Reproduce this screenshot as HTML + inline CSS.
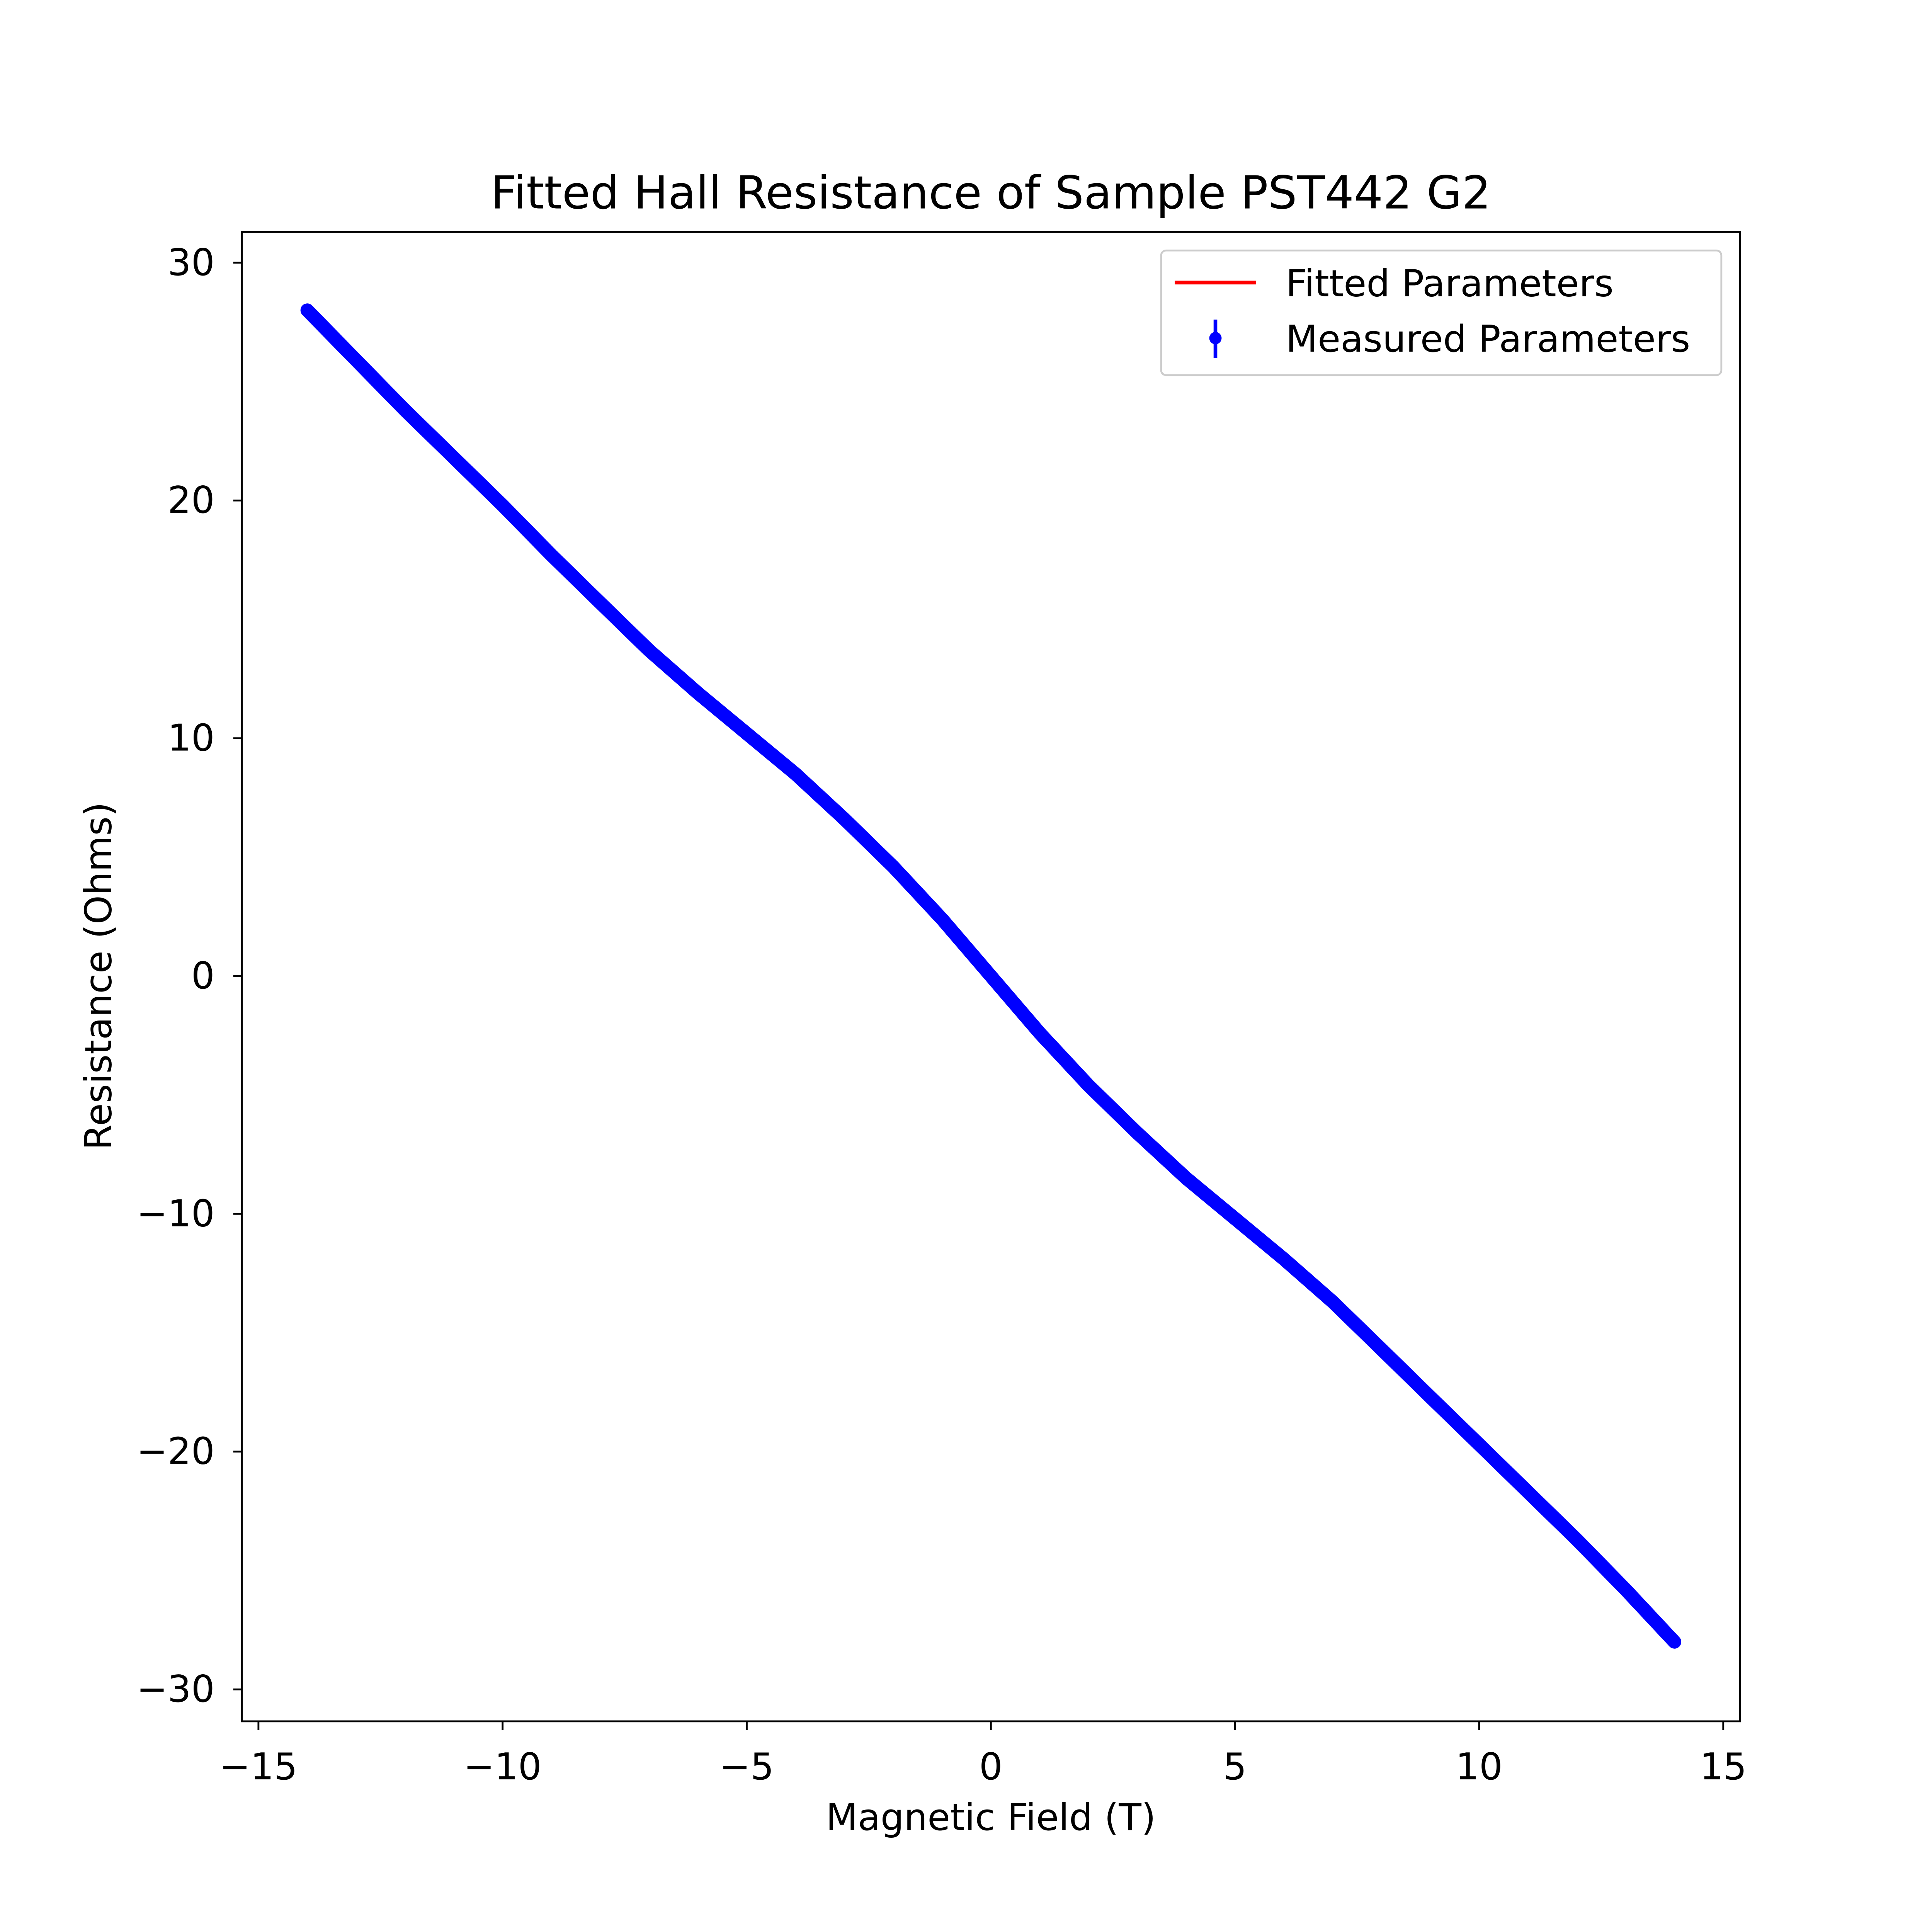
<!DOCTYPE html>
<html><head><meta charset="utf-8"><style>
html,body{margin:0;padding:0;background:#fff;overflow:hidden;width:5250px;height:5250px}
svg{display:block}
text{font-family:"DejaVu Sans","Liberation Sans",sans-serif;fill:#000}
</style></head><body>
<svg width="5250" height="5250" viewBox="0 0 1644 1644" xmlns="http://www.w3.org/2000/svg">
<rect width="1644" height="1644" fill="#fff"/>
<text x="803" y="169" font-size="37" text-anchor="middle">Fitted Hall Resistance of Sample PST442 G2</text>
<g id="plot"></g>
<rect x="196" y="188" width="1214" height="1207" fill="none" stroke="#000" stroke-width="1.5"/>
<g id="xt"></g><g id="yt"></g>
<text x="803" y="1483" font-size="30" text-anchor="middle">Magnetic Field (T)</text>
<text transform="translate(90,791) rotate(-90)" font-size="30" text-anchor="middle">Resistance (Ohms)</text>
<g>
<rect x="941" y="203" width="454" height="101" rx="4" fill="#fff" stroke="#ccc" stroke-width="1.5"/>
<line x1="952" y1="229" x2="1018" y2="229" stroke="#f00" stroke-width="3"/>
<text x="1042" y="240" font-size="30">Fitted Parameters</text>
<line x1="985" y1="259" x2="985" y2="290" stroke="#00f" stroke-width="3"/>
<circle cx="985" cy="274" r="5" fill="#00f"/>
<text x="1042" y="285" font-size="30">Measured Parameters</text>
</g>
</svg>
<script>
const fieldT=[-14,-13,-12,-11,-10,-9,-8,-7,-6,-5,-4,-3,-2,-1,0,1,2,3,4,5,6,7,8,9,10,11,12,13,14];
const measured=[28,25.9,23.8,21.8,19.8,17.7,15.7,13.7,11.9,10.2,8.5,6.6,4.6,2.4,0,-2.4,-4.6,-6.6,-8.5,-10.2,-11.9,-13.7,-15.7,-17.7,-19.7,-21.7,-23.7,-25.8,-28];
const fitted=[28,25.9,23.8,21.8,19.9,17.9,15.9,13.9,11.9,10.2,8.5,6.6,4.6,2.4,0,-2.4,-4.6,-6.6,-8.5,-10.2,-11.9,-13.9,-15.9,-17.9,-19.9,-21.8,-23.8,-25.9,-28];
const xTicks=[-15,-10,-5,0,5,10,15];
const yTicks=[-30,-20,-10,0,10,20,30];
const sx=v=>803+v*39.57, sy=v=>791-v*19.27;
const NS="http://www.w3.org/2000/svg";
const plot=document.getElementById('plot');
function path(xs,ys){return xs.map((x,i)=>(i?'L':'M')+sx(x).toFixed(1)+','+sy(ys[i]).toFixed(1)).join(' ');}
const f=document.createElementNS(NS,'path');


f.setAttribute('d',path(fieldT,fitted));f.setAttribute('fill','none');f.setAttribute('stroke','#f00');f.setAttribute('stroke-width','2');
plot.appendChild(f);
const m=document.createElementNS(NS,'path');


m.setAttribute('d',path(fieldT,measured));m.setAttribute('fill','none');m.setAttribute('stroke','#00f');m.setAttribute('stroke-width','11');m.setAttribute('stroke-linejoin','round');m.setAttribute('stroke-linecap','round');
plot.appendChild(m);
const xt=document.getElementById('xt');
xTicks.forEach(v=>{const x=sx(v);
const l=document.createElementNS(NS,'line');


l.setAttribute('x1',x);l.setAttribute('x2',x);l.setAttribute('y1',1395);l.setAttribute('y2',1402);l.setAttribute('stroke','#000');l.setAttribute('stroke-width','1.5');xt.appendChild(l);
const t=document.createElementNS(NS,'text');


t.setAttribute('x',x);t.setAttribute('y',1442);t.setAttribute('font-size','30');t.setAttribute('text-anchor','middle');t.textContent=v<0?'\u2212'+(-v):String(v);xt.appendChild(t);});
const yt=document.getElementById('yt');
yTicks.forEach(v=>{const y=sy(v);
const l=document.createElementNS(NS,'line');


l.setAttribute('x1',189);l.setAttribute('x2',196);l.setAttribute('y1',y);l.setAttribute('y2',y);l.setAttribute('stroke','#000');l.setAttribute('stroke-width','1.5');yt.appendChild(l);
const t=document.createElementNS(NS,'text');


t.setAttribute('x',174);t.setAttribute('y',y+10);t.setAttribute('font-size','30');t.setAttribute('text-anchor','end');t.textContent=v<0?'\u2212'+(-v):String(v);yt.appendChild(t);});
</script>
</body></html>
